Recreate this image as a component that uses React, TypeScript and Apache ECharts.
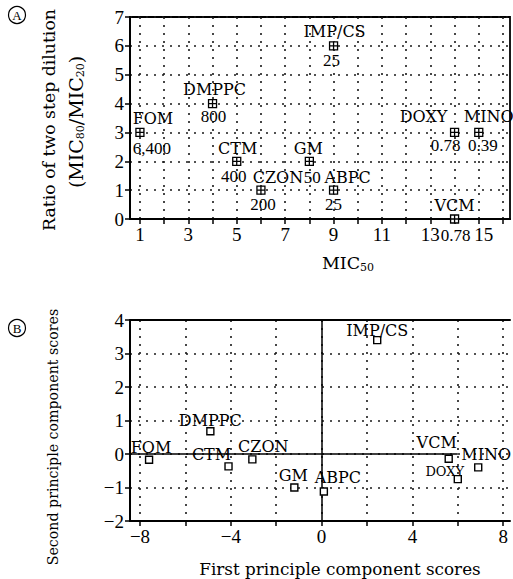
import React, { useEffect, useRef } from "react";
import * as echarts from "echarts";

// ---------- Data: panel A ----------
const topNames = ["FOM", "DMPPC", "CTM", "CZON", "GM", "ABPC", "IMP/CS", "DOXY", "MINO", "VCM"];
const topMic50 = [1, 4, 5, 6, 8, 9, 9, 14, 15, 14];
const topRatio = [3, 4, 2, 1, 2, 1, 6, 3, 3, 0];
const topMicLabels = ["6,400", "800", "400", "200", "50", "25", "25", "0.78", "0.39", "0.78"];
const topXTickValues = [1, 2, 3, 4, 5, 6, 7, 8, 9, 10, 11, 12, 13, 14, 15, 16];
const topXLabelValues = [1, 3, 5, 7, 9, 11, 13, 15];

// ---------- Data: panel B ----------
const pcaNames = ["FOM", "DMPPC", "CTM", "CZON", "GM", "ABPC", "IMP/CS", "VCM", "MINO", "DOXY"];
const pcaFirst = [-7.6, -4.9, -4.1, -3.05, -1.2, 0.1, 2.45, 5.6, 6.9, 6.0];
const pcaSecond = [-0.17, 0.68, -0.37, -0.16, -1.0, -1.12, 3.4, -0.14, -0.4, -0.75];
const pcaXTickValues = [-8, -6, -4, -2, 0, 2, 4, 6, 8];
const pcaXLabelValues = [-8, -4, 0, 4, 8];
const pcaZeroLineEnd = 6;

// ---------- Layout / style (not data) ----------
const SERIF_WIDE = "DejaVu Serif";
const SERIF = "Liberation Serif";
const INK = "#000";
const topXMin = 0.59;
const topXMax = 16.29;
const pcaXMin = -8.44;
const pcaXMax = 8.3;

const topNameOffsets: Record<string, number[]> = {
  FOM: [13, -14], DMPPC: [2, -14], CTM: [1, -13], CZON: [17, -13], GM: [-1, -13],
  ABPC: [14, -13], "IMP/CS": [1, -14], DOXY: [-31, -16], MINO: [10, -16], VCM: [0, -14],
};
const topValueOffsets: Record<string, number[]> = {
  FOM: [12, 16], DMPPC: [1, 13], CTM: [-3, 15], CZON: [2, 14], GM: [3, 16],
  ABPC: [0, 14], "IMP/CS": [-2, 15], DOXY: [-9, 13], MINO: [4, 13], VCM: [1, 16],
};
const pcaLabelOffsets: Record<string, number[]> = {
  FOM: [2, -12], DMPPC: [0, -11], CTM: [-17, -12], CZON: [11, -13], GM: [-1, -12],
  ABPC: [14, -14], "IMP/CS": [0, -10], VCM: [-12, -16], MINO: [8, -13], DOXY: [-13, -8],
};

const dotted = { color: "#1a1a1a", width: 1.6, type: [2, 6] as number[] };
const minusFmt = (v: number) => (v < 0 ? "\u2212" + Math.abs(v) : String(v));

function buildOption() {
  const centered = { position: ["50%", "50%"], align: "center", verticalAlign: "middle" };
  const nameLabel = { ...centered, fontFamily: SERIF_WIDE, fontSize: 16, color: INK, textBorderWidth: 0, opacity: 1 };
  const valueLabel = { ...centered, fontFamily: SERIF, fontSize: 17, color: INK, textBorderWidth: 0, opacity: 1 };

  const topPoints = topNames.map((n, i) => ({
    name: n,
    value: [topMic50[i], topRatio[i]],
    label: { formatter: n, offset: topNameOffsets[n] },
  }));
  const topValuePoints = topNames.map((n, i) => ({
    name: n,
    value: [topMic50[i], topRatio[i]],
    label: { formatter: topMicLabels[i], offset: topValueOffsets[n] },
  }));
  const pcaPoints = pcaNames.map((n, i) => ({
    name: n,
    value: [pcaFirst[i], pcaSecond[i]],
    label: {
      formatter: n,
      offset: pcaLabelOffsets[n],
      fontSize: n === "DOXY" ? 13 : 16,
    },
  }));

  const axisLine = { show: true, lineStyle: { color: INK, width: 2 } };
  const axisTick = { show: true, inside: false, length: 5, lineStyle: { color: INK, width: 1.5 } };
  const axisLabelBase = { fontFamily: SERIF, fontSize: 19, color: INK, margin: 6 };

  const subRich = (main: number, sub: number) => ({
    a: { fontFamily: SERIF_WIDE, fontSize: main, fill: INK, lineHeight: 24, verticalAlign: "middle" },
    s: { fontFamily: SERIF_WIDE, fontSize: sub, fill: INK, lineHeight: 24, verticalAlign: "bottom", padding: [0, 0, 2, 0] },
  });

  return {
    animation: false,
    backgroundColor: "#fff",
    grid: [
      { left: 130, top: 17, width: 380, height: 202, show: true, borderColor: INK, borderWidth: 1.8, backgroundColor: "transparent" },
      { left: 130, top: 320, width: 380, height: 201 },
    ],
    xAxis: [
      {
        type: "value", gridIndex: 0, min: topXMin, max: topXMax,
        axisLine, axisTick: { ...axisTick, customValues: topXTickValues },
        axisLabel: {
          ...axisLabelBase,
          customValues: topXLabelValues,
          formatter: (v: number) => (v === 15 ? "{r|15}" : String(v)),
          rich: { r: { fontFamily: SERIF, fontSize: 19, color: INK, padding: [0, 0, 0, 10] } },
        },
        splitLine: { show: true, lineStyle: dotted },
      },
      {
        type: "value", gridIndex: 1, min: pcaXMin, max: pcaXMax,
        axisLine: { ...axisLine, onZero: false },
        axisTick: { ...axisTick, customValues: pcaXTickValues },
        axisLabel: { ...axisLabelBase, customValues: pcaXLabelValues, formatter: minusFmt },
        splitLine: { show: true, lineStyle: dotted },
      },
      {
        type: "value", gridIndex: 1, position: "top", min: pcaXMin, max: pcaXMax,
        axisLine: { ...axisLine, onZero: false }, axisTick: { show: false },
        axisLabel: { show: false }, splitLine: { show: false },
      },
    ],
    yAxis: [
      {
        type: "value", gridIndex: 0, min: 0, max: 7, interval: 1,
        axisLine, axisTick, axisLabel: axisLabelBase,
        splitLine: { show: true, lineStyle: dotted },
      },
      {
        type: "value", gridIndex: 1, min: -2, max: 4, interval: 1,
        axisLine: { ...axisLine, onZero: false }, axisTick,
        axisLabel: { ...axisLabelBase, formatter: minusFmt },
        splitLine: { show: true, lineStyle: dotted },
      },
    ],
    series: [
      {
        type: "scatter", xAxisIndex: 0, yAxisIndex: 0, z: 5,
        symbol: "path://M0 0H8V8H0Z M4 0V8 M0 4H8",
        symbolSize: 8,
        itemStyle: { color: "#fff", borderColor: INK, borderWidth: 1.3, opacity: 1 },
        label: { show: true, ...nameLabel },
        data: topPoints,
      },
      {
        type: "scatter", xAxisIndex: 0, yAxisIndex: 0, z: 4,
        symbol: "circle", symbolSize: 0.5,
        itemStyle: { color: "#fff", borderWidth: 0, opacity: 1 },
        label: { show: true, ...valueLabel },
        data: topValuePoints,
      },
      {
        type: "scatter", xAxisIndex: 1, yAxisIndex: 1, z: 5,
        symbol: "rect", symbolSize: 7,
        itemStyle: { color: "#fff", borderColor: INK, borderWidth: 1.4, opacity: 1 },
        label: { show: true, ...nameLabel },
        data: pcaPoints,
        markLine: {
          silent: true, symbol: "none", label: { show: false },
          lineStyle: { color: INK, width: 1.5, type: "solid" },
          data: [
            [{ coord: [0, -2] }, { coord: [0, 4] }],
            [{ coord: [pcaXMin, 0] }, { coord: [pcaZeroLineEnd, 0] }],
          ],
        },
      },
    ],
    graphic: [
      // circled panel letters
      { type: "circle", shape: { cx: 17, cy: 15, r: 8.5 }, style: { fill: "none", stroke: INK, lineWidth: 1.2 } },
      { type: "text", x: 17, y: 15.5, style: { text: "A", fontFamily: SERIF, fontSize: 13, fill: INK, align: "center", verticalAlign: "middle" } },
      { type: "circle", shape: { cx: 17, cy: 328, r: 8.5 }, style: { fill: "none", stroke: INK, lineWidth: 1.2 } },
      { type: "text", x: 17, y: 328.5, style: { text: "B", fontFamily: SERIF, fontSize: 13, fill: INK, align: "center", verticalAlign: "middle" } },
      // panel A axis titles
      {
        type: "text", x: 49, y: 120, rotation: Math.PI / 2,
        style: { text: "Ratio of two step dilution", fontFamily: SERIF_WIDE, fontSize: 17.3, fill: INK, align: "center", verticalAlign: "middle" },
      },
      {
        type: "text", x: 76, y: 122, rotation: Math.PI / 2,
        style: {
          text: "{a|(MIC}{s|80}{a|/MIC}{s|20}{a|)}",
          fill: INK, align: "center", verticalAlign: "middle",
          rich: subRich(19, 11),
        },
      },
      {
        type: "text", x: 348, y: 263,
        style: {
          text: "{a|MIC}{s|50}", fill: INK, align: "center", verticalAlign: "middle",
          rich: subRich(17.5, 11),
        },
      },
      // panel B axis titles
      {
        type: "text", x: 53, y: 437, rotation: Math.PI / 2,
        style: { text: "Second principle component scores", fontFamily: SERIF_WIDE, fontSize: 14.2, fill: INK, align: "center", verticalAlign: "middle" },
      },
      {
        type: "text", x: 340, y: 569,
        style: { text: "First principle component scores", fontFamily: SERIF_WIDE, fontSize: 16.8, fill: INK, align: "center", verticalAlign: "middle" },
      },
    ],
  };
}

export default function App() {
  const ref = useRef<HTMLDivElement>(null);
  useEffect(() => {
    if (!ref.current) return;
    const chart = echarts.init(ref.current, null, { renderer: "svg" });
    chart.setOption(buildOption() as any);
    return () => chart.dispose();
  }, []);
  return (
    <div
      ref={ref}
      style={{ position: "fixed", left: 0, top: 0, width: 513, height: 579, background: "#fff" }}
    />
  );
}
